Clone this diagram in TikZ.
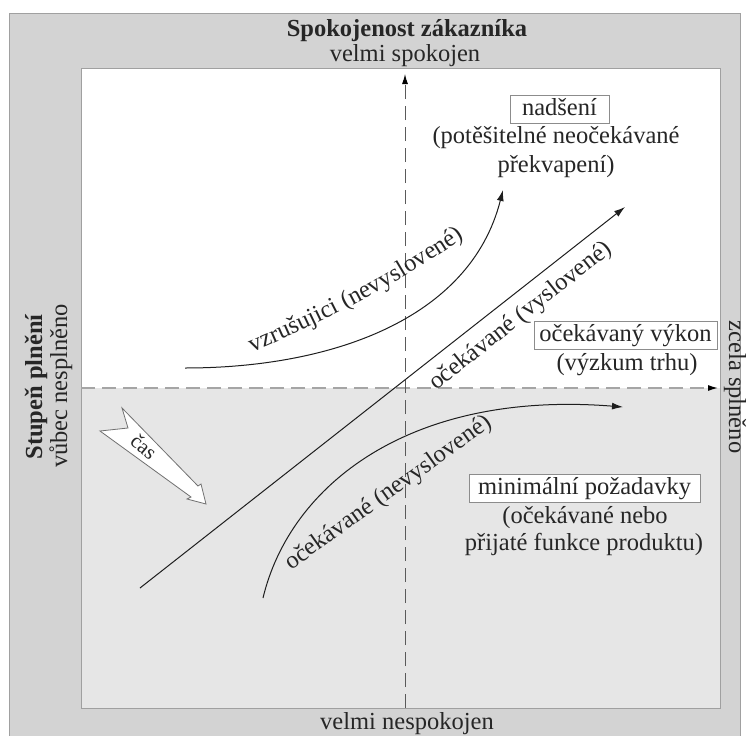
\documentclass[tikz,border=0pt]{standalone}
\usepackage{fontspec}
\setmainfont{Liberation Serif}
\usetikzlibrary{arrows.meta,decorations.text}
\definecolor{outergray}{HTML}{D3D3D3}
\definecolor{innergray}{HTML}{E6E6E6}
\definecolor{framegray}{HTML}{A0A0A0}
\definecolor{boxgray}{HTML}{8C8C8C}
\definecolor{txt}{HTML}{262626}
\definecolor{ln}{HTML}{1E1E1E}
\definecolor{dashdark}{HTML}{5A5A5A}
\definecolor{dashlight}{HTML}{A5A5A5}
\definecolor{casgray}{HTML}{707070}
\newcommand\lblfont{\fontsize{24.5}{27}\selectfont}
\begin{document}
\begin{tikzpicture}[x=1pt,y=-1pt,font=\lblfont,text=txt,
  every node/.style={inner sep=0pt},
  tagbox/.style={draw=boxgray, fill=white, line width=0.9pt, text height=17pt, text depth=5pt, inner ysep=3pt, inner xsep=0pt},
  curve/.style={draw=ln, line width=1pt, -{Latex[length=11pt,width=7pt]}},
  axisv/.style={draw=dashdark, line width=1pt, dash pattern=on 14pt off 7pt, -{Latex[length=10pt,width=6pt,color=black]}},
  axish/.style={draw=dashlight, line width=1.2pt, dash pattern=on 14pt off 7pt, -{Latex[length=10pt,width=6pt,color=black]}},
  sublbl/.style={anchor=base}
]
\useasboundingbox (0,0) rectangle (747,736);
\fill[white] (0,0) rectangle (747,736);
\filldraw[fill=outergray, draw=framegray, line width=0.8pt] (9,13) rectangle (740,745);
\fill[white] (81,68) rectangle (720,388);
\fill[innergray] (81,388) rectangle (720,708);
\draw[framegray, line width=0.8pt] (81,68) rectangle (720,708);

% axes
\coordinate (vbot) at (405,708);
\coordinate (vtop) at (405,74);
\coordinate (hleft) at (81,388);
\coordinate (hright) at (718,388);
\draw[axish] (hleft) -- (hright);
\draw[axisv] (vbot) -- (vtop);

% border texts
\node[font=\lblfont\bfseries, anchor=base] (title) at (407,36.5) {Spokojenost zákazníka};
\node[anchor=base] (top) at (405,61) {velmi spokojen};
\node[anchor=base] (bottom) at (407,729) {velmi nespokojen};
\node[font=\lblfont\bfseries, anchor=base, rotate=90] (lefta) at (42,387) {Stupeň plnění};
\node[anchor=base, rotate=90] (leftb) at (67,386) {vůbec nesplněno};
\node[anchor=base, rotate=-90] (right) at (729,387) {zcela splněno};

% boxed labels
\node[tagbox, minimum width=99pt] (nad) at (559.5,109) {nadšení};
\node[sublbl] (nadsub1) at (556,143) {(potěšitelné neočekávané};
\node[sublbl] (nadsub2) at (556,172) {překvapení)};
\node[tagbox, minimum width=183pt] (vyk) at (625.5,335) {očekávaný výkon};
\node[sublbl] (vyksub) at (627,370) {(výzkum trhu)};
\node[tagbox, minimum width=231pt] (min) at (584.5,488) {minimální požadavky};
\node[sublbl] (minsub1) at (585,523) {(očekávané nebo};
\node[sublbl] (minsub2) at (584,550) {přijaté funkce produktu)};

% curves
\coordinate (a1) at (185,368);
\coordinate (a2) at (503,190);
\draw[curve] (a1) .. controls (330,368) and (470,320) .. (a2);
\coordinate (t1) at (252,352);
\coordinate (t2) at (480,228);
\path[decorate, decoration={text along path, text={|\lblfont\color{txt}|vzrušujici (nevyslovené)}, text align=left}] (t1) .. controls (330,320) and (400,282) .. (t2);

\coordinate (b1) at (140,588);
\coordinate (b2) at (625,207);
\draw[curve] (b1) -- (b2);
\node[rotate=38.2] (blbl) at (521,316.5) {očekávané (vyslovené)};

\coordinate (c1) at (263,598);
\coordinate (c2) at (623,407);
\draw[curve] (c1) .. controls (290,485) and (410,390) .. (c2);
\node[anchor=base, rotate=35.6] (clbl) at (392,498) {očekávané (nevyslovené)};

% time arrow
\filldraw[fill=white, draw=casgray, line width=0.8pt] (122,408) -- (198,486) -- (201,484) -- (206,504) -- (187,499) -- (191,497) -- (100,431) -- (128,428) -- cycle;
\node[rotate=-40, font=\fontsize{21}{23}\selectfont] (cas) at (144,447) {čas};
\end{tikzpicture}
\end{document}
